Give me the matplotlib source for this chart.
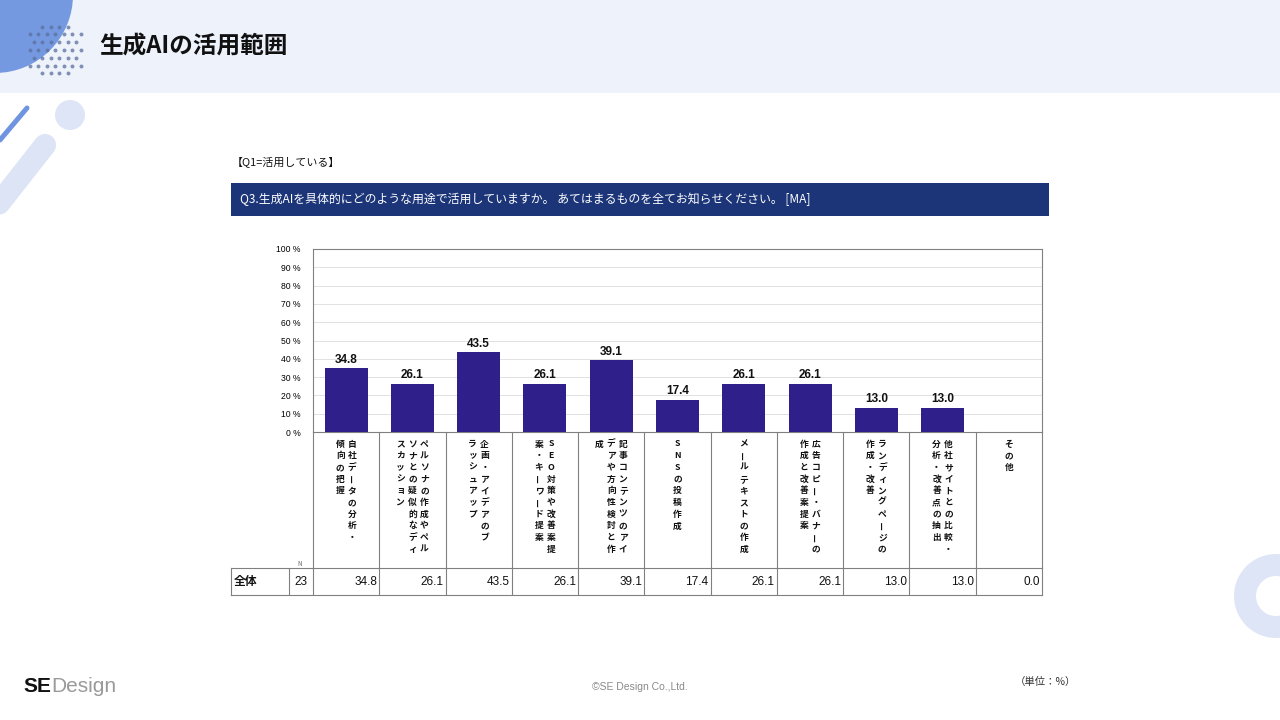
import numpy as np
import matplotlib
matplotlib.use("Agg")
import matplotlib.pyplot as plt
from matplotlib.patches import Rectangle, Circle, Wedge

plt.rcParams['font.family'] = ['Noto Sans CJK JP', 'DejaVu Sans']

# Data
title = "生成AIの活用範囲"
base_note = "【Q1=活用している】"
question = "Q3.生成AIを具体的にどのような用途で活用していますか。 あてはまるものを全てお知らせください。 [MA]"
categories = ["自社データの分析・\n傾向の把握",
              "ペルソナの作成やペル\nソナとの疑似的なディ\nスカッション",
              "企画・アイデアのブ\nラッシュアップ",
              "SEO対策や改善案提\n案・キーワード提案",
              "記事コンテンツのアイ\nデアや方向性検討と作\n成",
              "SNSの投稿作成",
              "メールテキストの作成",
              "広告コピー・バナーの\n作成と改善案提案",
              "ランディングページの\n作成・改善",
              "他社サイトとの比較・\n分析・改善点の抽出",
              "その他"]
values = [34.8, 26.1, 43.5, 26.1, 39.1, 17.4, 26.1, 26.1, 13.0, 13.0, 0.0]
row_label = "全体"
n_total = 23
y_ticks = list(range(0, 101, 10))
unit_note = "（単位：%）"
copyright = "©SE Design Co.,Ltd."

W, H = 1280, 720
num_font = ['Liberation Sans', 'DejaVu Sans']
grey = '#808080'


def frac(x0, y0, x1, y1):
    return [x0 / W, 1 - y1 / H, (x1 - x0) / W, (y1 - y0) / H]


fig = plt.figure(figsize=(12.8, 7.2), dpi=100)

# background / decorations in pixel coords
bg = fig.add_axes([0, 0, 1, 1], zorder=0)
bg.set_xlim(0, W)
bg.set_ylim(H, 0)
bg.axis('off')
bg.add_patch(Rectangle((0, 0), W, 93, color='#eef2fb', lw=0))
bg.add_patch(Circle((-5, -5), 78, color='#7599e1', lw=0))
gx, gy = np.meshgrid(np.arange(-4, 5), np.arange(-4, 5))
dx_ = (gx + 0.5 * (gy % 2)) * 8.5
dy_ = gy * 7.8
keep = dx_ ** 2 + dy_ ** 2 < 30 ** 2
bg.scatter(55 + dx_[keep], 50 + dy_[keep], s=8, color='#5b6f9c', alpha=0.75, lw=0)
bg.text(99, 47, title, fontsize=17, fontweight='bold', va='center', ha='left', color='#111111')
bg.plot([-10, 45], [215, 145], color='#dce4f6', lw=16, solid_capstyle='round')
bg.plot([0, 27], [140, 108], color='#7095e0', lw=3.6, solid_capstyle='round')
bg.add_patch(Circle((70, 115), 15, color='#dee5f7', lw=0))
bg.add_patch(Wedge((1276, 596), 42, 0, 360, width=22, color='#dde5f7', lw=0))

bg.text(232, 163, base_note, fontsize=7.9, va='center', ha='left', color='#111111')
bg.add_patch(Rectangle((231, 183), 818, 33, color='#1b3578', lw=0))
bg.text(240, 199.5, question, fontsize=8.6, va='center', ha='left', color='white')
bg.text(300, 564, "N", fontsize=4.5, va='center', ha='center', color='#666666')

bg.text(51, 686, "SE", fontsize=15, fontweight='bold', family=num_font, ha='right', va='center', color='#111111')
bg.text(51, 686, "Design", fontsize=15, family=num_font, ha='left', va='center', color='#999999')
bg.text(640, 687, copyright, fontsize=7.5, family=num_font, ha='center', va='center', color='#8a8a8a')
bg.text(1045, 682, unit_note, fontsize=7.5, ha='center', va='center', color='#333333')

# bar chart
n = len(values)
x = np.arange(n)
slot_px = (1042 - 313) / n

ax = fig.add_axes(frac(313, 249, 1042, 432), zorder=2)
ax.set_facecolor('white')
ax.bar(x, values, width=0.65, color='#2f1f8a', zorder=3)
for xi, v in zip(x, values):
    if v > 0:
        ax.text(xi, v + 1.5, f"{v:.1f}", ha='center', va='bottom', fontsize=8.5,
                fontweight='bold', family=num_font, color='#111111')
ax.set_xlim(-0.5, n - 0.5)
ax.set_ylim(0, 100)
ax.set_xticks([])
ax.set_yticks(y_ticks)
ax.set_yticklabels([f"{t} %" for t in y_ticks], fontsize=6.2, family=num_font)
ax.tick_params(length=0, pad=9)
ax.yaxis.grid(True, color='#dcdcdc', lw=0.6)
ax.set_axisbelow(True)
for s in ax.spines.values():
    s.set_color(grey)
    s.set_linewidth(0.8)

# vertical category labels
lab = fig.add_axes(frac(313, 432, 1042, 568), zorder=2)
lab.set_xlim(-0.5, n - 0.5)
lab.set_ylim(136, 0)
lab.axis('off')
for b in np.arange(-0.5, n, 1):
    lab.axvline(b, color=grey, lw=0.8, clip_on=False)
col_dx = 12 / slot_px
for i, cat in enumerate(categories):
    cols = cat.split("\n")
    nc = len(cols)
    for k, col in enumerate(cols):
        cx = i + ((nc - 1) / 2 - k) * col_dx
        for r, ch in enumerate(col):
            rot = 90 if ch == "ー" else 0
            lab.text(cx, 12 + r * 11.7, ch, ha='center', va='center', fontsize=6.3,
                     fontweight='bold', rotation=rot, color='#111111')

# table row
left_px = [58, 24]
x_left = -0.5 - sum(left_px) / slot_px
tab = fig.add_axes(frac(231, 568, 1042, 595), zorder=2)
tab.set_xlim(x_left, n - 0.5)
tab.set_ylim(27, 0)
tab.set_xticks([])
tab.set_yticks([])
for s in tab.spines.values():
    s.set_color(grey)
    s.set_linewidth(0.8)
b1 = x_left + left_px[0] / slot_px
for b in [b1, -0.5] + list(np.arange(0.5, n - 0.5, 1)):
    tab.axvline(b, color=grey, lw=0.8)
tab.text(x_left + 3 / slot_px, 13.5, row_label, ha='left', va='center', fontsize=8.5,
         fontweight='bold', color='#111111')
tab.text((b1 - 0.5) / 2, 14, str(n_total), ha='center', va='center', fontsize=8.5,
         family=num_font, color='#111111')
for xi, v in zip(x, values):
    tab.text(xi + 0.5 - 2 / slot_px, 14, f"{v:.1f}", ha='right', va='center', fontsize=8.5,
             family=num_font, color='#111111')

fig.savefig("out.png", dpi=100)
